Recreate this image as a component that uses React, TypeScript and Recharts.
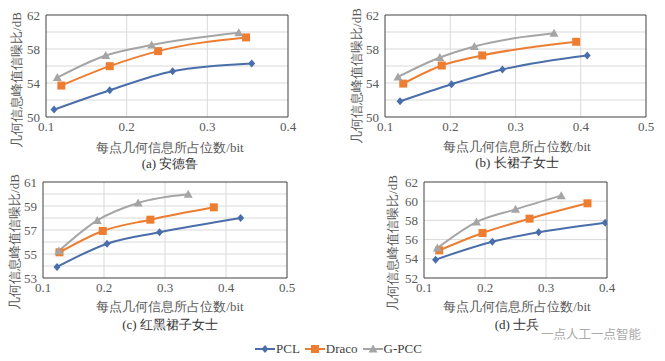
import React from 'react';
import { LineChart, Line, XAxis, YAxis, CartesianGrid, ReferenceArea } from 'recharts';

// [bits per point, geometry PSNR dB]
const andrewPCL = [[0.110, 50.87], [0.179, 53.15], [0.257, 55.39], [0.355, 56.3]];
const andrewDraco = [[0.119, 53.7], [0.179, 55.98], [0.239, 57.75], [0.348, 59.36]];
const andrewGPCC = [[0.114, 54.64], [0.174, 57.24], [0.231, 58.46], [0.339, 59.9]];

const longDressPCL = [[0.123, 51.85], [0.202, 53.86], [0.280, 55.59], [0.410, 57.24]];
const longDressDraco = [[0.128, 53.93], [0.187, 56.06], [0.249, 57.24], [0.393, 58.85]];
const longDressGPCC = [[0.120, 54.72], [0.184, 57.0], [0.237, 58.3], [0.359, 59.84]];

const redBlackPCL = [[0.123, 53.92], [0.205, 55.86], [0.291, 56.81], [0.424, 58.0]];
const redBlackDraco = [[0.127, 55.14], [0.198, 56.92], [0.276, 57.86], [0.380, 58.89]];
const redBlackGPCC = [[0.126, 55.25], [0.189, 57.8], [0.256, 59.25], [0.338, 59.97]];

const soldierPCL = [[0.119, 53.91], [0.212, 55.78], [0.288, 56.76], [0.397, 57.76]];
const soldierDraco = [[0.125, 54.88], [0.196, 56.69], [0.273, 58.18], [0.368, 59.78]];
const soldierGPCC = [[0.122, 55.13], [0.186, 57.83], [0.250, 59.15], [0.325, 60.58]];

const seriesNames = ['PCL', 'Draco', 'G-PCC'];
const seriesColors = ['#4a6ea9', '#ed7d31', '#a5a5a5'];

const xTicks4 = [0.1, 0.2, 0.3, 0.4];
const xTicks5 = [0.1, 0.2, 0.3, 0.4, 0.5];
const yTicksA = [50, 54, 58, 62];
const yTicksC = [53, 55, 57, 59, 61];
const yTicksD = [52, 54, 56, 58, 60, 62];
const gridA = [52, 54, 56, 58, 60];
const gridC = [54, 55, 56, 57, 58, 59, 60];

const xTitle = '每点几何信息所占位数/bit';
const yTitle = '几何信息峰值信噪比/dB';

const serif = "'Liberation Serif', 'Times New Roman', 'DejaVu Serif', serif";

const toPts = (arr: number[][]) => arr.map(([x, y]) => ({ x, y }));

function XTick(p: any) {
  return (
    <text x={p.x} y={p.y} dy="0.71em" textAnchor="middle" fontSize={13} fill="#595959" style={{ fontFamily: serif }}>
      {Number(p.payload.value).toFixed(1)}
    </text>
  );
}

function YTick(p: any) {
  return (
    <text x={p.x} y={p.y} dy="0.35em" textAnchor="end" fontSize={13} fill="#595959" style={{ fontFamily: serif }}>
      {p.payload.value}
    </text>
  );
}

function Marker(props: any) {
  const { cx, cy, kind, color } = props;
  if (cx == null || cy == null) return null;
  if (kind === 0) {
    return <path d={`M${cx},${cy - 4}L${cx + 3.5},${cy}L${cx},${cy + 4}L${cx - 3.5},${cy}Z`} fill={color} />;
  }
  if (kind === 1) {
    return <rect x={cx - 4} y={cy - 4} width={8} height={8} fill={color} />;
  }
  return <path d={`M${cx},${cy - 4.5}L${cx + 4.5},${cy + 3.5}L${cx - 4.5},${cy + 3.5}Z`} fill={color} />;
}

function Panel(props: any) {
  const { left, top, width, height, plot, xDomain, xTicks, yDomain, yTicks, hGrid, vGrid, data, yLabel, xLabel, caption } = props;
  const [x1, y1, x2, y2] = plot;
  return (
    <>
      <div style={{ position: 'absolute', left, top }}>
        <LineChart width={width} height={height} margin={{ top: y1, right: width - x2, bottom: 0, left: 0 }}>
          <CartesianGrid horizontalValues={hGrid} verticalValues={vGrid} stroke="#d9d9d9" />
          <XAxis
            type="number"
            dataKey="x"
            domain={xDomain}
            ticks={xTicks}
            interval={0}
            height={height - y2}
            axisLine={false}
            tickLine={false}
            tickSize={0}
            tickMargin={5}
            tick={<XTick />}
            allowDataOverflow
          />
          <YAxis
            type="number"
            domain={yDomain}
            ticks={yTicks}
            interval={0}
            width={x1}
            axisLine={false}
            tickLine={false}
            tickSize={0}
            tickMargin={6}
            tick={<YTick />}
            allowDataOverflow
          />
          <ReferenceArea x1={xDomain[0]} x2={xDomain[1]} y1={yDomain[0]} y2={yDomain[1]} fill="none" fillOpacity={0} stroke="#404040" strokeWidth={1} strokeOpacity={1} />
          {data.map((d: number[][], i: number) => (
            <Line
              key={seriesNames[i]}
              name={seriesNames[i]}
              data={toPts(d)}
              dataKey="y"
              type="monotone"
              stroke={seriesColors[i]}
              strokeWidth={2}
              dot={(p: any) => <Marker key={`${i}-${p.index}`} cx={p.cx} cy={p.cy} kind={i} color={seriesColors[i]} />}
              activeDot={false}
              isAnimationActive={false}
            />
          ))}
        </LineChart>
      </div>
      <div style={{ position: 'absolute', left: left + yLabel[0], top: top + yLabel[1], transform: 'translate(-50%, -50%) rotate(-90deg)', whiteSpace: 'nowrap', fontSize: 13, color: '#595959', fontFamily: serif }}>
        {yTitle}
      </div>
      <div style={{ position: 'absolute', left: left + xLabel[0], top: top + xLabel[1], transform: 'translate(-50%, -50%)', whiteSpace: 'nowrap', fontSize: 13, color: '#595959', fontFamily: serif }}>
        {xTitle}
      </div>
      <div style={{ position: 'absolute', left: left + xLabel[0], top: top + caption[1], transform: 'translate(-50%, -50%)', whiteSpace: 'nowrap', fontSize: 13, color: '#333', fontFamily: serif }}>
        {caption[0]}
      </div>
    </>
  );
}

function LegendItem({ i }: { i: number }) {
  const c = seriesColors[i];
  return (
    <div style={{ display: 'flex', alignItems: 'center', marginRight: 5 }}>
      <svg width={20} height={10}>
        <line x1={0} y1={5} x2={20} y2={5} stroke={c} strokeWidth={2} />
        <Marker cx={10} cy={5} kind={i} color={c} />
      </svg>
      <span style={{ marginLeft: 1, fontSize: 13, color: '#404040', fontFamily: serif }}>{seriesNames[i]}</span>
    </div>
  );
}

export default function App() {
  return (
    <div style={{ position: 'absolute', left: 0, top: 0, width: 665, height: 361, background: '#fff', overflow: 'hidden', fontFamily: serif }}>
      <Panel
        left={0} top={0} width={330} height={170}
        plot={[46, 15, 288, 117]}
        xDomain={[0.1, 0.4]} xTicks={xTicks4}
        yDomain={[50, 62]} yTicks={yTicksA}
        hGrid={gridA} vGrid={[0.2, 0.3]}
        data={[andrewPCL, andrewDraco, andrewGPCC]}
        yLabel={[17, 80]} xLabel={[170, 148]} caption={['(a) 安德鲁', 164]}
      />
      <Panel
        left={330} top={0} width={335} height={170}
        plot={[55, 15, 316, 117]}
        xDomain={[0.1, 0.5]} xTicks={xTicks5}
        yDomain={[50, 62]} yTicks={yTicksA}
        hGrid={gridA} vGrid={[0.2, 0.3, 0.4]}
        data={[longDressPCL, longDressDraco, longDressGPCC]}
        yLabel={[27, 76]} xLabel={[187, 147]} caption={['(b) 长裙子女士', 163]}
      />
      <Panel
        left={0} top={170} width={330} height={160}
        plot={[43, 12, 287, 108]}
        xDomain={[0.1, 0.5]} xTicks={xTicks5}
        yDomain={[53, 61]} yTicks={yTicksC}
        hGrid={gridC} vGrid={[0.2, 0.3, 0.4]}
        data={[redBlackPCL, redBlackDraco, redBlackGPCC]}
        yLabel={[15, 72]} xLabel={[170, 137]} caption={['(c) 红黑裙子女士', 155]}
      />
      <Panel
        left={330} top={170} width={335} height={160}
        plot={[94, 12, 277, 108]}
        xDomain={[0.1, 0.4]} xTicks={xTicks4}
        yDomain={[52, 62]} yTicks={yTicksD}
        hGrid={[54, 56, 58, 60]} vGrid={[0.2, 0.3]}
        data={[soldierPCL, soldierDraco, soldierGPCC]}
        yLabel={[63, 73]} xLabel={[187, 137]} caption={['(d) 士兵', 155]}
      />
      <div style={{ position: 'absolute', left: 255, top: 341, display: 'flex' }}>
        <LegendItem i={0} />
        <LegendItem i={1} />
        <LegendItem i={2} />
      </div>
      <div style={{ position: 'absolute', left: 541, top: 326, fontSize: 12.5, color: '#aaa', fontFamily: '"Noto Sans CJK SC", sans-serif', whiteSpace: 'nowrap', lineHeight: '15px' }}>
        一点人工一点智能
      </div>
    </div>
  );
}
